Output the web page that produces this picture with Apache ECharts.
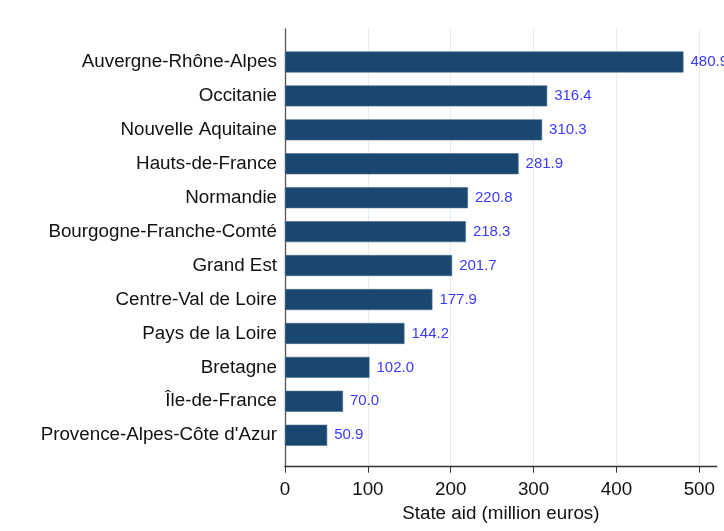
<!DOCTYPE html>
<html>
<head>
<meta charset="utf-8">
<script src="https://cdn.jsdelivr.net/npm/echarts@6/dist/echarts.min.js"></script>
<style>
  html, body { margin: 0; padding: 0; background: #fff; }
  #main { width: 724px; height: 531px; }
</style>
</head>
<body>
<div id="main"></div>
<script>
// regions, top to bottom
var regions = [
  'Auvergne-Rhône-Alpes',
  'Occitanie',
  'Nouvelle Aquitaine',
  'Hauts-de-France',
  'Normandie',
  'Bourgogne-Franche-Comté',
  'Grand Est',
  'Centre-Val de Loire',
  'Pays de la Loire',
  'Bretagne',
  'Île-de-France',
  "Provence-Alpes-Côte d'Azur"
]
var stateAid = [480.9, 316.4, 310.3, 281.9, 220.8, 218.3, 201.7, 177.9, 144.2, 102.0, 70.0, 50.9]
var xTicks = [0, 100, 200, 300, 400, 500]

var xMax = 521
var font = 'Liberation Sans, Arial, sans-serif'

var chart = echarts.init(document.getElementById('main'))
var option = {
  animation: false,
  grid: [
    // bars
    { left: 285, right: 7.3, top: 45, bottom: 78.8 },
    // axes frame
    { left: 285, right: 7.3, top: 29, bottom: 64.3 }
  ],
  xAxis: [
    {
      gridIndex: 0,
      type: 'value',
      min: 0,
      max: xMax,
      show: false
    },
    {
      gridIndex: 1,
      type: 'value',
      min: 0,
      max: xMax,
      interval: 100,
      axisLine: { show: true, lineStyle: { color: '#333', width: 1.3 } },
      axisTick: { show: true, length: 6, lineStyle: { color: '#333' } },
      axisLabel: {
        color: '#111',
        fontSize: 18.8,
        fontFamily: font,
        margin: 14,
        showMaxLabel: false,
        formatter: function (v) { return xTicks.indexOf(v) >= 0 ? String(v) : '' }
      },
      splitLine: { show: true, showMaxLine: false, lineStyle: { color: '#e4eef2', width: 1 } },
      name: 'State aid (million euros)',
      nameLocation: 'middle',
      nameGap: 33,
      nameTextStyle: { color: '#111', fontSize: 18.8, fontFamily: font }
    }
  ],
  yAxis: [
    {
      gridIndex: 0,
      type: 'category',
      inverse: true,
      data: regions,
      axisLine: { show: false },
      axisTick: { show: false },
      axisLabel: {
        color: '#111',
        fontSize: 18.8,
        fontFamily: font,
        margin: 8
      }
    },
    {
      gridIndex: 1,
      type: 'value',
      min: 0,
      max: 1,
      axisLine: { show: true, lineStyle: { color: '#555', width: 1.3 } },
      axisTick: { show: false },
      axisLabel: { show: false },
      splitLine: { show: false }
    }
  ],
  series: [
    {
      type: 'bar',
      xAxisIndex: 0,
      yAxisIndex: 0,
      data: stateAid,
      barWidth: 21,
      itemStyle: { color: '#1a476f', borderColor: '#4d6d8a', borderWidth: 0.6 },
      label: {
        show: true,
        position: 'right',
        distance: 7,
        color: '#3a3aff',
        fontSize: 15,
        fontFamily: font,
        formatter: function (p) { return p.value.toFixed(1) }
      }
    }
  ]
}
chart.setOption(option)
</script>
</body>
</html>
